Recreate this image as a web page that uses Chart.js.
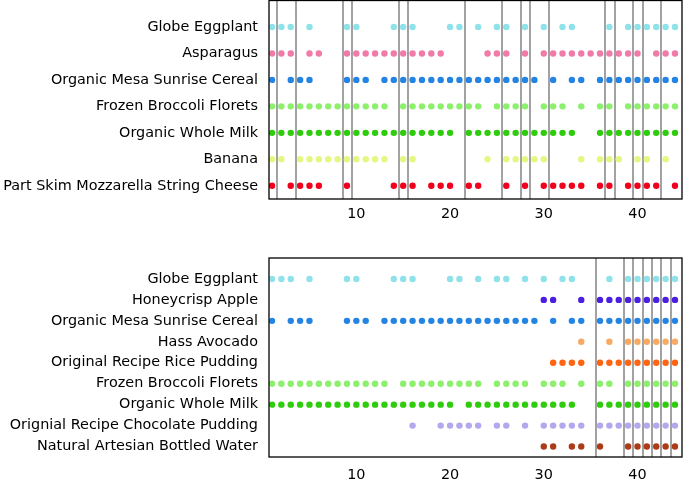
<!DOCTYPE html>
<html>
<head>
<meta charset="utf-8">
<script src="https://cdn.jsdelivr.net/npm/chart.js@4"></script>
<style>
  body { margin: 0; background: #fff; }
  canvas { position: absolute; left: 0; }
</style>
</head>
<body>
<canvas id="topChart" width="685" height="235" style="top:0"></canvas>
<canvas id="bottomChart" width="685" height="245" style="top:235px"></canvas>
<script>
const xTicks = [10, 20, 30, 40];

// days each product was bought
const eggplant = [1, 2, 3, 5, 9, 10, 14, 15, 16, 20, 21, 23, 25, 26, 28, 30, 32, 33, 37, 39, 40, 41, 42, 43, 44];
const asparagus = [1, 2, 3, 5, 6, 9, 10, 11, 12, 13, 14, 15, 16, 17, 18, 19, 24, 25, 26, 28, 30, 31, 32, 33, 34, 35, 36, 37, 38, 39, 40, 42, 43, 44];
const cereal = [1, 3, 4, 5, 9, 10, 11, 13, 14, 15, 16, 17, 18, 19, 20, 21, 22, 23, 24, 25, 26, 27, 28, 29, 31, 33, 34, 36, 37, 38, 39, 40, 41, 42, 43, 44];
const broccoli = [1, 2, 3, 4, 5, 6, 7, 8, 9, 10, 11, 12, 13, 15, 16, 17, 18, 19, 20, 21, 22, 23, 25, 26, 27, 28, 30, 31, 32, 34, 36, 37, 39, 40, 41, 42, 43, 44];
const wholeMilk = [1, 2, 3, 4, 5, 6, 7, 8, 9, 10, 11, 12, 13, 14, 15, 16, 17, 18, 19, 20, 22, 23, 24, 25, 26, 27, 28, 29, 30, 31, 32, 33, 36, 37, 38, 39, 40, 41, 42, 43, 44];
const banana = [1, 2, 4, 5, 6, 7, 8, 9, 10, 11, 12, 13, 15, 16, 24, 26, 27, 28, 29, 30, 34, 36, 37, 38, 40, 41, 43];
const mozzarella = [1, 3, 4, 5, 6, 9, 14, 15, 16, 18, 19, 20, 22, 23, 26, 28, 30, 31, 32, 33, 34, 36, 37, 39, 40, 41, 42, 44];
const honeycrisp = [30, 31, 34, 36, 37, 38, 39, 40, 41, 42, 43, 44];
const avocado = [34, 37, 39, 40, 41, 42, 43, 44];
const ricePudding = [31, 32, 33, 34, 36, 37, 38, 39, 40, 41, 42, 43, 44];
const chocPudding = [16, 19, 20, 21, 22, 23, 25, 26, 28, 30, 31, 32, 33, 34, 36, 37, 38, 39, 40, 41, 42, 43, 44];
const water = [30, 31, 33, 34, 36, 39, 40, 41, 42, 43, 44];

// vertical marker lines
const topLines = [1.55, 3.55, 8.55, 9.55, 14.55, 15.55, 21.55, 25.55, 27.55, 28.55, 30.55, 36.55, 37.55, 39.55, 40.55, 42.55];
const bottomLines = [35.55, 38.55, 39.55, 40.55, 41.55, 42.55, 43.55];

const topRows = [
  ["Globe Eggplant", eggplant, "#8fe2ea"],
  ["Asparagus", asparagus, "#f07aa8"],
  ["Organic Mesa Sunrise Cereal", cereal, "#2484e4"],
  ["Frozen Broccoli Florets", broccoli, "#8cf06c"],
  ["Organic Whole Milk", wholeMilk, "#2ecc0c"],
  ["Banana", banana, "#e6f682"],
  ["Part Skim Mozzarella String Cheese", mozzarella, "#f0001c"],
];
const bottomRows = [
  ["Globe Eggplant", eggplant, "#8fe2ea"],
  ["Honeycrisp Apple", honeycrisp, "#4a1fe0"],
  ["Organic Mesa Sunrise Cereal", cereal, "#2484e4"],
  ["Hass Avocado", avocado, "#f8aa62"],
  ["Original Recipe Rice Pudding", ricePudding, "#ff6412"],
  ["Frozen Broccoli Florets", broccoli, "#8cf06c"],
  ["Organic Whole Milk", wholeMilk, "#2ecc0c"],
  ["Orignial Recipe Chocolate Pudding", chocPudding, "#b3a8ee"],
  ["Natural Artesian Bottled Water", water, "#ac3c18"],
];

const makeChart = (id, rows, lines, padTop, xHeight, tickPad) => {
  const cats = rows.map(r => r[0]);
  const framePlugin = {
    id: "frame",
    beforeDatasetsDraw(chart) {
      const { ctx, chartArea, scales } = chart;
      ctx.save();
      ctx.strokeStyle = "rgba(100,100,100,0.6)";
      ctx.lineWidth = 2;
      lines.forEach(v => {
        const px = Math.round(scales.x.getPixelForValue(v));
        ctx.beginPath();
        ctx.moveTo(px, chartArea.top);
        ctx.lineTo(px, chartArea.bottom);
        ctx.stroke();
      });
      ctx.restore();
    },
    afterDraw(chart) {
      const { ctx, chartArea } = chart;
      ctx.save();
      ctx.strokeStyle = "#000";
      ctx.lineWidth = 1.3;
      ctx.strokeRect(chartArea.left, chartArea.top, chartArea.right - chartArea.left, chartArea.bottom - chartArea.top);
      ctx.restore();
    }
  };

  return new Chart(document.getElementById(id), {
    type: "scatter",
    data: {
      datasets: rows.map((r, i) => ({
        label: r[0],
        data: r[1].map(x => ({ x: x, y: i })),
        backgroundColor: r[2],
        borderWidth: 0,
        pointRadius: 3.2,
      })),
    },
    options: {
      responsive: false,
      animation: false,
      devicePixelRatio: 1,
      layout: { autoPadding: false, padding: { top: padTop, right: 3, left: 0, bottom: 0 } },
      plugins: { legend: { display: false }, tooltip: { enabled: false } },
      scales: {
        x: {
          type: "linear",
          min: 0.68,
          max: 44.75,
          grid: { display: false, drawTicks: false },
          border: { display: false },
          afterBuildTicks: (axis) => { axis.ticks = xTicks.map(v => ({ value: v })); },
          afterFit: (axis) => {
            axis.height = xHeight;
            axis.paddingLeft = 0;
            axis.paddingRight = 0;
          },
          ticks: {
            padding: tickPad,
            maxRotation: 0,
            color: "#000",
            font: { family: "DejaVu Sans", size: 14.4 },
          },
        },
        y: {
          type: "linear",
          min: -1,
          max: rows.length - 0.5,
          reverse: true,
          grid: { display: false, drawTicks: false },
          border: { display: false },
          afterBuildTicks: (axis) => { axis.ticks = cats.map((c, i) => ({ value: i })); },
          afterFit: (axis) => {
            axis.width = 269;
            axis.paddingTop = 0;
            axis.paddingBottom = 0;
          },
          ticks: {
            padding: 11,
            autoSkip: false,
            color: "#000",
            font: { family: "DejaVu Sans", size: 14.4 },
            callback: (v) => cats[v],
          },
        },
      },
    },
    plugins: [framePlugin],
  });
};

makeChart("topChart", topRows, topLines, 0.5, 36, 7);
makeChart("bottomChart", bottomRows, bottomLines, 23, 23, 10);
</script>
</body>
</html>
